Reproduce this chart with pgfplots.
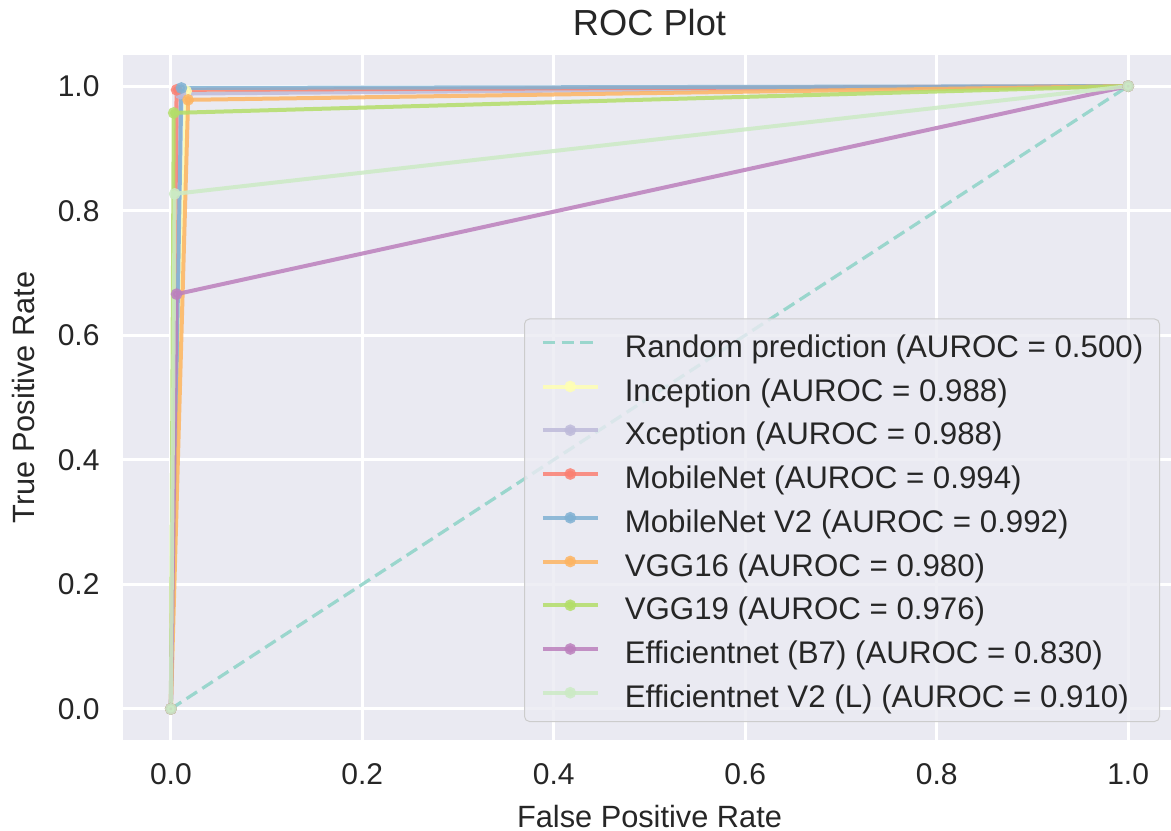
\documentclass[border=0pt]{standalone}
\usepackage{fontspec}
\setmainfont{Liberation Sans}
\usepackage{pgfplots}
\pgfplotsset{compat=1.18}
\definecolor{bg}{HTML}{EAEAF2}
\definecolor{txt}{HTML}{262626}
\definecolor{c0}{HTML}{8DD3C7}
\definecolor{c1}{HTML}{FFFFB3}
\definecolor{c2}{HTML}{BEBADA}
\definecolor{c3}{HTML}{FB8072}
\definecolor{c4}{HTML}{80B1D3}
\definecolor{c5}{HTML}{FDB462}
\definecolor{c6}{HTML}{B3DE69}
\definecolor{c7}{HTML}{BC80BD}
\definecolor{c8}{HTML}{CCEBC5}
\begin{document}
\begin{tikzpicture}
\begin{axis}[name=ax, at={(0,0)}, anchor=south west,
  scale only axis, width=421.2pt, height=274pt,
  xmin=-0.05, xmax=1.05, ymin=-0.05, ymax=1.05,
  xtick={0,0.2,0.4,0.6,0.8,1.0}, ytick={0,0.2,0.4,0.6,0.8,1.0},
  xticklabels={0.0,0.2,0.4,0.6,0.8,1.0},
  yticklabels={0.0,0.2,0.4,0.6,0.8,1.0},
  axis background/.style={fill=bg},
  axis line style={draw=none},
  major tick length=0pt,
  grid=major, major grid style={white, line width=1.1pt},
  ticklabel style={font=\fontsize{12}{14}\selectfont, text=txt},
  xticklabel style={anchor=north, inner sep=0pt, yshift=-9.2pt},
  yticklabel style={anchor=east, inner sep=0pt, xshift=-9.2pt},
  xlabel={False Positive Rate}, ylabel={True Positive Rate},
  label style={font=\fontsize{12.3}{14}\selectfont, text=txt},
  xlabel style={at={(axis description cs:0.5,0)}, anchor=base, yshift=-34.8pt},
  ylabel style={at={(axis description cs:-0.0836,0.5)}, anchor=base},
  title={ROC Plot},
  title style={font=\fontsize{14.5}{16}\selectfont, text=txt, at={(axis description cs:0.5,1)}, anchor=base, yshift=1.6pt},
  legend cell align=left,
  legend style={at={(1,0)}, anchor=south east, xshift=-6.4pt, yshift=7.2pt,
    fill=bg, fill opacity=0.8, draw=black!20, draw opacity=1, text opacity=1,
    rounded corners=2pt, font=\fontsize{12.5}{15}\selectfont, text=txt,
    inner xsep=6.5pt, inner ysep=4.75pt, row sep=6pt, column sep=10pt,
    nodes={inner sep=0pt, text height=10.6pt, text depth=0.9pt}},
  legend image code/.code={\draw[mark repeat=2,mark phase=2] plot coordinates {(0pt,1pt) (11pt,1pt) (22pt,1pt)};},
  every axis plot/.append style={line width=1.6pt, mark=*, mark size=1.5pt, opacity=0.85},
]
\addplot[c0, dash pattern=on 5pt off 2.5pt, line width=1.3pt, no marks] coordinates {(0,0) (1,1)};
\addlegendentry{Random prediction (AUROC = 0.500)}
\addplot[c1, mark options={fill=c1}] coordinates {(0,0) (0.016,0.992) (1,1)};
\addlegendentry{Inception (AUROC = 0.988)}
\addplot[c2, mark options={fill=c2}] coordinates {(0,0) (0.010,0.988) (1,1)};
\addlegendentry{Xception (AUROC = 0.988)}
\addplot[c3, mark options={fill=c3}] coordinates {(0,0) (0.006,0.994) (1,1)};
\addlegendentry{MobileNet (AUROC = 0.994)}
\addplot[c4, mark options={fill=c4}] coordinates {(0,0) (0.011,0.997) (1,1)};
\addlegendentry{MobileNet V2 (AUROC = 0.992)}
\addplot[c5, mark options={fill=c5}] coordinates {(0,0) (0.018,0.978) (1,1)};
\addlegendentry{VGG16 (AUROC = 0.980)}
\addplot[c6, mark options={fill=c6}] coordinates {(0,0) (0.003,0.957) (1,1)};
\addlegendentry{VGG19 (AUROC = 0.976)}
\addplot[c7, mark options={fill=c7}] coordinates {(0,0) (0.006,0.666) (1,1)};
\addlegendentry{Efficientnet (B7) (AUROC = 0.830)}
\addplot[c8, mark options={fill=c8}] coordinates {(0,0) (0.004,0.827) (1,1)};
\addlegendentry{Efficientnet V2 (L) (AUROC = 0.910)}
\end{axis}
\pgfresetboundingbox
\path (ax.south west) ++(-49.2pt,-36pt) rectangle ++(468.4pt,332pt);
\end{tikzpicture}
\end{document}
